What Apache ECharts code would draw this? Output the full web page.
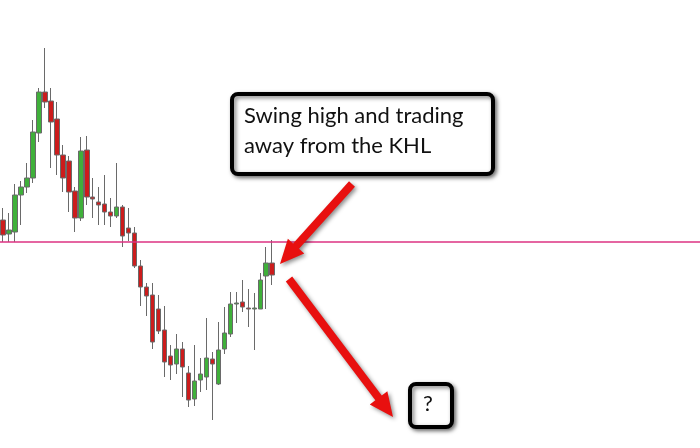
<!DOCTYPE html>
<html><head><meta charset="utf-8">
<script src="https://cdn.jsdelivr.net/npm/echarts@6/dist/echarts.min.js"></script>
<style>html,body{margin:0;padding:0;background:#fff}#c{width:700px;height:448px}</style>
</head><body><div id="c"></div>
<script>
// Candle values (arbitrary price units, higher = up)
const opens  = [228,214,216,253,261,270,315,356,347,329,293,287,257,230,298,251,246,244,236,232,241,220,215,182,161,153,139,118,92,84,99,75,49,68,71,89,64,99,114,144,146,140,139,139,172,185];
const closes = [213,218,253,261,270,316,356,346,326,293,270,256,230,297,251,249,243,236,232,241,212,215,182,161,152,106,117,86,83,99,81,48,67,74,90,84,98,115,144,145,141,139,140,168,185,173];
const lows   = [206,206,206,223,255,265,306,340,280,273,256,236,216,227,243,230,223,223,221,230,201,207,180,142,132,99,114,71,68,74,51,41,42,56,58,28,63,94,111,125,136,121,98,139,139,163];
const highs  = [240,235,264,267,285,328,360,400,360,346,303,292,261,311,312,270,261,273,250,285,243,240,221,188,165,165,153,142,103,114,106,82,103,90,130,96,126,141,156,156,168,159,155,175,201,208];
const totalSlots = 117;
const keyLevel = 206;
const noteText = ['Swing high and trading', 'away from the KHL'];
const questionText = '?';

const cats = [];
for (let i = 0; i < totalSlots; i++) cats.push('d' + i);
const ohlc = opens.map((o, i) => [o, closes[i], lows[i], highs[i]]);

function arrow(x1, y1, x2, y2, shaftW, headL, headW) {
  const dx = x2 - x1, dy = y2 - y1, len = Math.hypot(dx, dy);
  const ux = dx / len, uy = dy / len, px = -uy, py = ux;
  const bx = x2 - ux * headL, by = y2 - uy * headL;
  const s = shaftW / 2, h = headW / 2;
  return [
    [x1 + px * s, y1 + py * s], [bx + px * s, by + py * s], [bx + px * h, by + py * h],
    [x2, y2],
    [bx - px * h, by - py * h], [bx - px * s, by - py * s], [x1 - px * s, y1 - py * s]
  ];
}
const arrowStyle = { fill: '#e8100f', shadowBlur: 4, shadowOffsetX: 2, shadowOffsetY: 2, shadowColor: 'rgba(0,0,0,0.45)' };

const chart = echarts.init(document.getElementById('c'), null, { renderer: 'canvas' });
chart.setOption({
  animation: false,
  backgroundColor: '#ffffff',
  grid: { left: 0, right: 0, top: 0, bottom: 0 },
  xAxis: { type: 'category', data: cats, boundaryGap: true, show: false },
  yAxis: { type: 'value', min: 0, max: 448, show: false, splitLine: { show: false } },
  series: [{
    type: 'candlestick',
    data: ohlc,
    barWidth: 5,
    itemStyle: {
      color: '#3fb03a', color0: '#cc1c1c',
      borderColor: '#6a6a6a', borderColor0: '#6a6a6a', borderWidth: 1
    },
    markLine: {
      silent: true, symbol: ['none', 'none'], label: { show: false },
      lineStyle: { color: '#dc3282', width: 1.5, type: 'solid' },
      data: [{ yAxis: keyLevel }]
    }
  }],
  graphic: [
    { type: 'polygon', shape: { points: arrow(352, 184, 280, 264, 8, 24, 22) }, style: arrowStyle, z: 50 },
    { type: 'polygon', shape: { points: arrow(289, 279, 393, 417, 8, 24, 22) }, style: arrowStyle, z: 50 },
    { type: 'rect', shape: { x: 232, y: 94, width: 261, height: 80, r: 6 },
      style: { fill: '#fff', stroke: '#000', lineWidth: 4, shadowBlur: 4, shadowOffsetX: 2, shadowOffsetY: 2, shadowColor: 'rgba(0,0,0,0.5)' }, z: 60 },
    { type: 'text', left: 244, top: 101, z: 61,
      style: { text: noteText.join('\n'), font: '22px Lato', lineHeight: 30, fill: '#111' } },
    { type: 'rect', shape: { x: 410, y: 384, width: 42, height: 43, r: 6 },
      style: { fill: '#fff', stroke: '#000', lineWidth: 4, shadowBlur: 4, shadowOffsetX: 2, shadowOffsetY: 2, shadowColor: 'rgba(0,0,0,0.5)' }, z: 60 },
    { type: 'text', left: 423, top: 393, z: 61,
      style: { text: questionText, font: '22px Lato', fill: '#111' } }
  ]
});
</script></body></html>
